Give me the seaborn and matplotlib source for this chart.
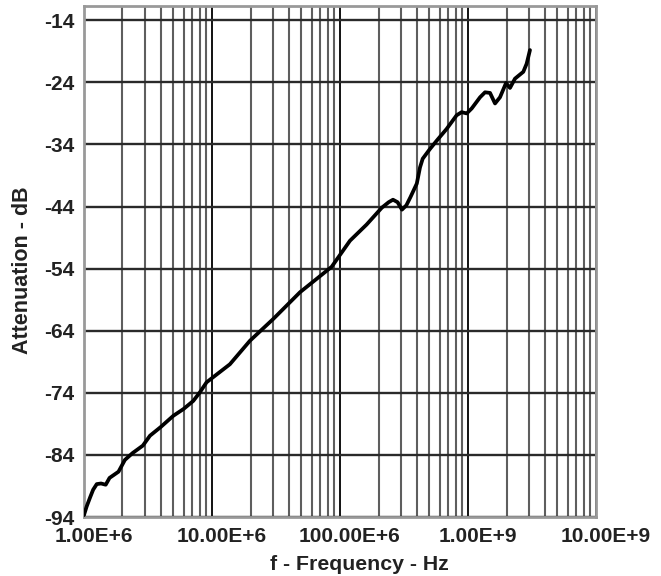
import numpy as np
import pandas as pd
import matplotlib
matplotlib.use('Agg')
import matplotlib.pyplot as plt
import matplotlib.transforms as mtransforms
import seaborn as sns

# values
freq_hz = [1.00e6, 1.05e6, 1.114e6, 1.18e6, 1.259e6, 1.36e6, 1.479e6, 1.585e6, 1.862e6,
           2.089e6, 2.399e6, 2.884e6, 3.281e6, 3.981e6, 4.989e6, 6.0e6, 7.145e6, 8.054e6,
           9.078e6, 1.380e7, 1.982e7, 3.013e7, 4.870e7, 8.610e7, 1.197e8, 1.614e8,
           2.118e8, 2.40e8, 2.594e8, 2.818e8, 3.048e8, 3.30e8, 3.548e8, 3.981e8, 4.217e8,
           4.426e8, 5.012e8, 5.689e8, 6.808e8, 8.147e8, 8.913e8, 9.772e8, 1.069e9,
           1.242e9, 1.358e9, 1.486e9, 1.626e9, 1.778e9, 1.982e9, 2.128e9, 2.328e9,
           2.704e9, 2.871e9, 3.048e9]
atten_db = [-93.7, -92.3, -90.9, -89.6, -88.7, -88.6, -88.8, -87.7, -86.7,
            -84.8, -83.7, -82.5, -80.9, -79.5, -77.7, -76.6, -75.3, -73.9,
            -72.3, -69.4, -65.6, -62.1, -57.8, -53.7, -49.5, -46.9,
            -44.2, -43.3, -42.9, -43.3, -44.5, -43.8, -42.5, -40.3, -37.7,
            -36.3, -34.8, -33.4, -31.5, -29.3, -28.8, -29.0, -28.2,
            -26.4, -25.6, -25.7, -27.4, -26.4, -24.1, -24.9, -23.4,
            -22.3, -21.0, -18.8]

x_ticks = [1e6, 1e7, 1e8, 1e9, 1e10]
x_ticklabels = ["1.00E+6", "10.00E+6", "100.00E+6", "1.00E+9", "10.00E+9"]
y_ticks = [-94, -84, -74, -64, -54, -44, -34, -24, -14]

df = pd.DataFrame({"f": freq_hz, "dB": atten_db})

sns.set_style("white")
plt.rcParams['font.family'] = ['Liberation Sans', 'DejaVu Sans']
plt.rcParams['font.weight'] = 'bold'

fig = plt.figure(figsize=(6.61, 5.76), dpi=100)
ax = fig.add_axes([0.127, 0.1024, 0.7747, 0.8872])

ax.set_xscale('log')
ax.set_xlim(1e6, 1e10)
ax.set_ylim(-94, -11.7)

# grid lines
for dec in [1e6, 1e7, 1e8, 1e9]:
    for m in range(2, 10):
        ax.axvline(dec * m, color='#5e5e5e', lw=1.5, zorder=1)
for xt in x_ticks:
    ax.axvline(xt, color='#111111', lw=1.4, zorder=1)
for yt in y_ticks:
    ax.axhline(yt, color='#2a2a2a', lw=1.7, zorder=1)

sns.lineplot(data=df, x="f", y="dB", ax=ax, color='black', lw=2.7,
             sort=False, estimator=None, zorder=3)
ax.lines[-1].set_solid_joinstyle('round')

ax.set_xticks(x_ticks)
ax.set_xticklabels(x_ticklabels)
ax.xaxis.set_minor_locator(matplotlib.ticker.NullLocator())
ax.set_yticks(y_ticks)
ax.set_yticklabels([str(v) for v in y_ticks])
ax.tick_params(axis='both', which='major', labelsize=15, length=4, width=1.3,
               color='#333333', pad=3)
shift = mtransforms.ScaledTranslation(10 / 100, 0, fig.dpi_scale_trans)
for lab in ax.get_xticklabels():
    lab.set_transform(lab.get_transform() + shift)
for lab in ax.get_xticklabels() + ax.get_yticklabels():
    lab.set_fontweight('bold')
    lab.set_color('#222222')

ax.set_xlabel("f - Frequency - Hz", fontsize=15.3, fontweight='bold', color='#222222')
ax.set_ylabel("Attenuation - dB", fontsize=15.5, fontweight='bold', color='#222222',
              va='center')
ax.xaxis.set_label_coords(0.537, -0.074)
ax.yaxis.set_label_coords(-0.12, 0.483)

for s in ax.spines.values():
    s.set_visible(True)
    s.set_color('#999999')
    s.set_linewidth(2)

fig.savefig("out.png", dpi=100)
